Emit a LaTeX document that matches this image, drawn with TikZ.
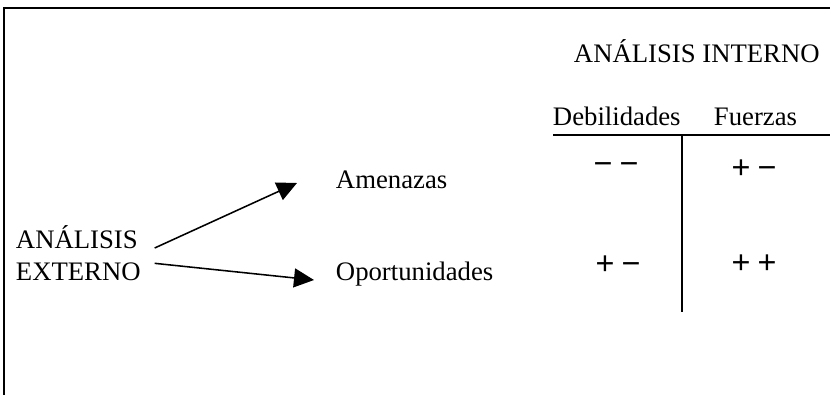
\documentclass[tikz,border=0pt]{standalone}
\usepackage{fontspec}
\setmainfont{Liberation Serif}
\newfontfamily\signfont{Liberation Sans}
\usepackage{tikz}
\usetikzlibrary{arrows.meta}

\begin{document}
\begin{tikzpicture}[x=0.025cm,y=-0.025cm,>={Triangle[length=0.5cm,width=0.475cm]},
  line width=1.4pt,
  txt node/.style={font=\fontsize{19}{22.7}\selectfont,inner sep=0pt,anchor=base west},
  sign node/.style={font=\signfont\fontsize{23}{26}\selectfont,inner sep=0pt,anchor=base}]

  \useasboundingbox (0,0) rectangle (830,395);
  \draw (4,395) -- (4,8) -- (830,8);

  \node[txt node] (1) at (573,62) {ANÁLISIS INTERNO};
  \node[txt node] (2) at (552,125) {Debilidades};
  \node[txt node] (3) at (713,125) {Fuerzas};

  % table
  \draw (553,135) -- (830,135);
  \draw (682,135) -- (682,312);

  \node[sign node] (9) at (616,174) {−\hspace{0.22em}−};
  \node[sign node] (10) at (754,178) {+\hspace{0.22em}−};
  \node[sign node] (11) at (618,274) {+\hspace{0.22em}−};
  \node[sign node] (12) at (754,273) {+\hspace{0.22em}+};

  \node[txt node] (5) at (15,248) {ANÁLISIS};
  \node[txt node] (6) at (15,280) {EXTERNO};
  \node[txt node] (7) at (335,188) {Amenazas};
  \node[txt node] (8) at (335,280) {Oportunidades};

  \path[->,line width=1.1pt]
    ([xshift=0.4cm]5.base east) edge ([xshift=-0.95cm,yshift=0.125cm]7.base west)
    ([xshift=0.325cm,yshift=-0.05cm]6.north east) edge ([xshift=-0.525cm]8.base west);

\end{tikzpicture}
\end{document}
